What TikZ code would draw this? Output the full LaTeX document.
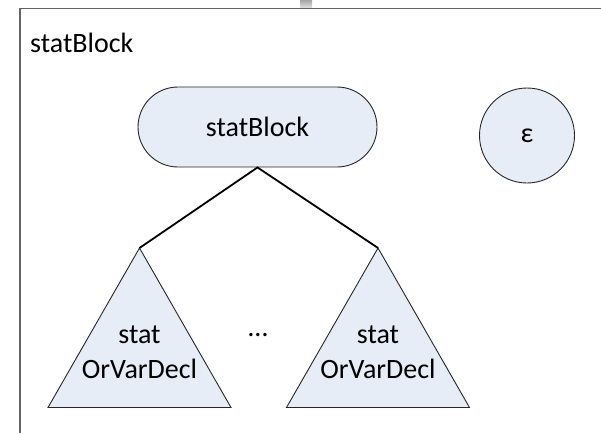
\documentclass[tikz,border=0pt]{standalone}
\usepackage{fontspec}
\setmainfont{Carlito}
\usetikzlibrary{shapes.misc}
\definecolor{nodefill}{RGB}{230,237,247}
\definecolor{framegray}{RGB}{100,100,100}
\begin{document}
\begin{tikzpicture}[x=1pt,y=-1pt,
  lbl/.style={font=\fontsize{28}{35}\selectfont, inner sep=0pt, align=center},
  shapeline/.style={draw=black!85, line width=0.9pt, fill=nodefill},
  edge/.style={draw=black, line width=1.8pt},
  framerule/.style={draw=framegray, line width=1.5pt}]
  \useasboundingbox (0,0) rectangle (601,433);
  \begin{scope}
    \clip (0,0) rectangle (601,433);
    % outer frame, open to the right and bottom
    \draw[framerule] (20,433) -- (20,8.5) -- (601,8.5);
    % small tab on the top border
    \shade[top color=gray!70, bottom color=gray!25] (300,0) rectangle (312,7.5);
  \end{scope}
  \node[lbl, anchor=base west] (title) at (30,53) {statBlock};

  % root of the production
  \node[shapeline, rounded rectangle, minimum width=239pt, minimum height=80pt,
        lbl] (root) at (257.5,127) {statBlock};
  % empty alternative
  \node[shapeline, circle, minimum size=95pt, lbl] (eps) at (527,135.5) {ε};

  % subtrees
  \coordinate (lapex) at (139.5,248);
  \coordinate (rapex) at (378,248);
  \draw[shapeline] (lapex) -- (48,407.5) -- (231,407.5) -- cycle;
  \draw[shapeline] (rapex) -- (286.5,407.5) -- (469.5,407.5) -- cycle;
  \node[lbl] (lsub) at (139.5,352) {stat\\OrVarDecl};
  \node[lbl] (rsub) at (378,352) {stat\\OrVarDecl};
  \node[lbl, anchor=base] (dots) at (258,336) {…};

  \draw[edge, line join=miter] (lapex) -- (root.south) -- (rapex);
\end{tikzpicture}
\end{document}
